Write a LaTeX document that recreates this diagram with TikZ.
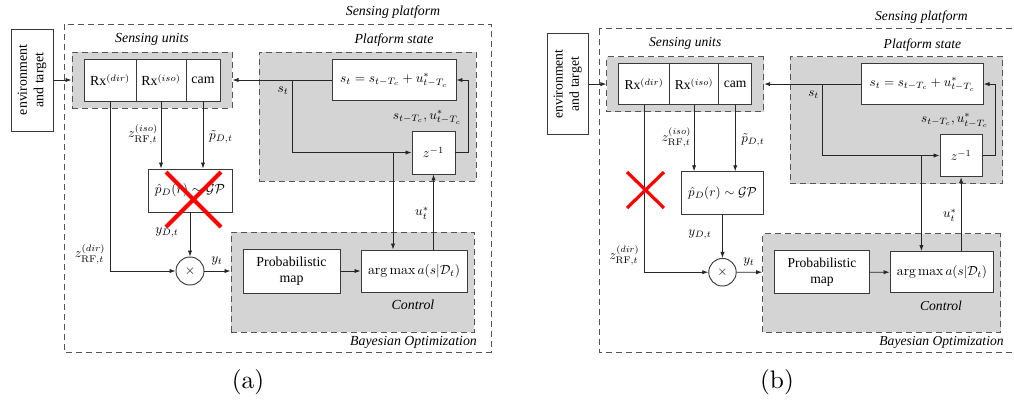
\documentclass[tikz,border=0pt]{standalone}
\usepackage{fontspec}
\newfontfamily\tms{Liberation Serif}
\newfontfamily\capfont{lmroman10-regular.otf}
\usetikzlibrary{arrows.meta}
\definecolor{shadegray}{HTML}{D4D4D4}
\definecolor{dashgray}{HTML}{555555}
\definecolor{boxgray}{HTML}{3A3A3A}
\tikzset{
 wh/.style 2 args={minimum width=#1*0.75pt, minimum height=#2*0.75pt},
 outer/.style={draw=dashgray, line width=0.75pt, dash pattern=on 4.5pt off 3pt},
 shadebox/.style={draw=dashgray, fill=shadegray, line width=0.75pt, dash pattern=on 4.5pt off 3pt, inner sep=0pt},
 blk/.style={draw=boxgray, fill=white, line width=0.7pt, inner sep=0pt, align=center},
 arr/.style={draw=black!85, line width=0.6pt, -{Latex[length=4.5pt,width=3.2pt]}},
 lbl/.style={inner sep=0pt},
 ital/.style={inner sep=0pt, font=\tms\fontsize{10.4}{12}\selectfont\itshape},
 redx/.style={draw=red, line width=3pt},
 capt/.style={inner sep=0pt, font=\capfont\fontsize{19}{23}\selectfont},
}
\newcommand\drawpanel{%
 \draw[outer] (64,24) rectangle (491,352);
 \node[ital] (tsp) at (393,12) {Sensing platform};
 \node[blk, rotate=90, wh={102}{42}] (env) at (32,80) {environment\\and target};
 % sensing units
 \node[shadebox, wh={160}{56}] (su) at (152,80) {};
 \node[ital] (tsu) at (152,39) {Sensing units};
 \node[blk, wh={52}{42}] (dir) at (110,80) {Rx$^{(dir)}$};
 \node[blk, wh={50}{42}] (iso) at (161,80) {Rx$^{(iso)}$};
 \node[blk, wh={34}{42}] (cam) at (203,80) {cam};
 % platform state
 \node[shadebox, wh={217}{129}] (ps) at (367.5,116.5) {};
 \node[ital] (tps) at (394,40) {Platform state};
 \node[blk, wh={124}{41}] (eq) at (394,80) {$s_t = s_{t-T_c} + u^*_{t-T_c}$};
 \node[blk, wh={43}{43}] (z) at (433.5,152.5) {$z^{-1}$};
 % control
 \node[shadebox, wh={243}{100}] (ctl) at (352.5,282) {};
 \node[ital] (tctl) at (413,305) {Control};
 \node[ital] (tbo) at (413.5,342) {Bayesian Optimization};
 \node[blk, wh={97}{44}] (pm) at (291.5,271) {Probabilistic\\map};
 \node[blk, wh={106}{42}] (am) at (414,271) {$\arg\max a(s|\mathcal{D}_t)$};
 % GP and product
 \node[blk, wh={84}{43}] (gp) at (190,190.5) {$\hat p_D(r) \sim \mathcal{GP}$};
 \node[draw=boxgray, line width=0.7pt, circle, fill=white, minimum size=28*0.75pt, inner sep=0pt] (mul) at (190,271) {$\times$};
 % connectors
 \draw[arr] (env.south) -- (su.west);
 \draw[arr] (eq.west) -- (su.east);
 \coordinate (br) at (292,80);
 \draw[arr] (br) |- (z.west);
 \coordinate (fb) at (468,80);
 \draw[arr] (z.east) -| (fb) -- (eq.east);
 \coordinate (j) at (393,152.5);
 \draw[arr] (j) -- (j |- am.north);
 \draw[arr] (am.north -| z.south) -- (z.south);
 \draw[arr] (pm) -- (am);
 \draw[arr] (mul) -- (mul -| ctl.west);
 \draw[arr] (iso.south) -- (iso.south |- gp.north);
 \draw[arr] (cam.south) -- (cam.south |- gp.north);
 \draw[arr] (gp) -- (mul);
 \draw[arr] (dir.south) |- (mul);
 % labels
 \node[lbl] (lst) at (283,91) {$s_t$};
 \node[lbl] (lsu) at (427,117) {$s_{t-T_c}, u^*_{t-T_c}$};
 \node[lbl] (lu) at (422,213) {$u^*_t$};
 \node[lbl] (lyt) at (217,261) {$y_t$};
 \node[lbl] (lyd) at (167,233) {$y_{D,t}$};
 \node[lbl] (lzi) at (143,134) {$z^{(iso)}_{\mathrm{RF},t}$};
 \node[lbl] (lpt) at (221,137) {$\tilde p_{D,t}$};
 \node[lbl] (lzd) at (90,254) {$z^{(dir)}_{\mathrm{RF},t}$};
}
\begin{document}
\begin{tikzpicture}[x=0.75pt,y=-0.75pt, every node/.style={font=\tms\fontsize{10.4}{12.5}\selectfont}]
\useasboundingbox (0,0) rectangle (1014,401);
\begin{scope}[name prefix=a-]
 \drawpanel
 \draw[redx] (166,172) -- (221,227) (221,172) -- (166,227);
\end{scope}
\begin{scope}[name prefix=b-, shift={(599,352)}, xscale=0.98, yscale=0.985, shift={(-64,-352)}, transform shape]
 \drawpanel
 \draw[redx, line width=2.4pt] (92.6,169.3) -- (130.3,205.8) (130.3,169.3) -- (92.6,205.8);
\end{scope}
\node[capt] (capa) at (248,382) {(a)};
\node[capt] (capb) at (777,382) {(b)};
\end{tikzpicture}
\end{document}
